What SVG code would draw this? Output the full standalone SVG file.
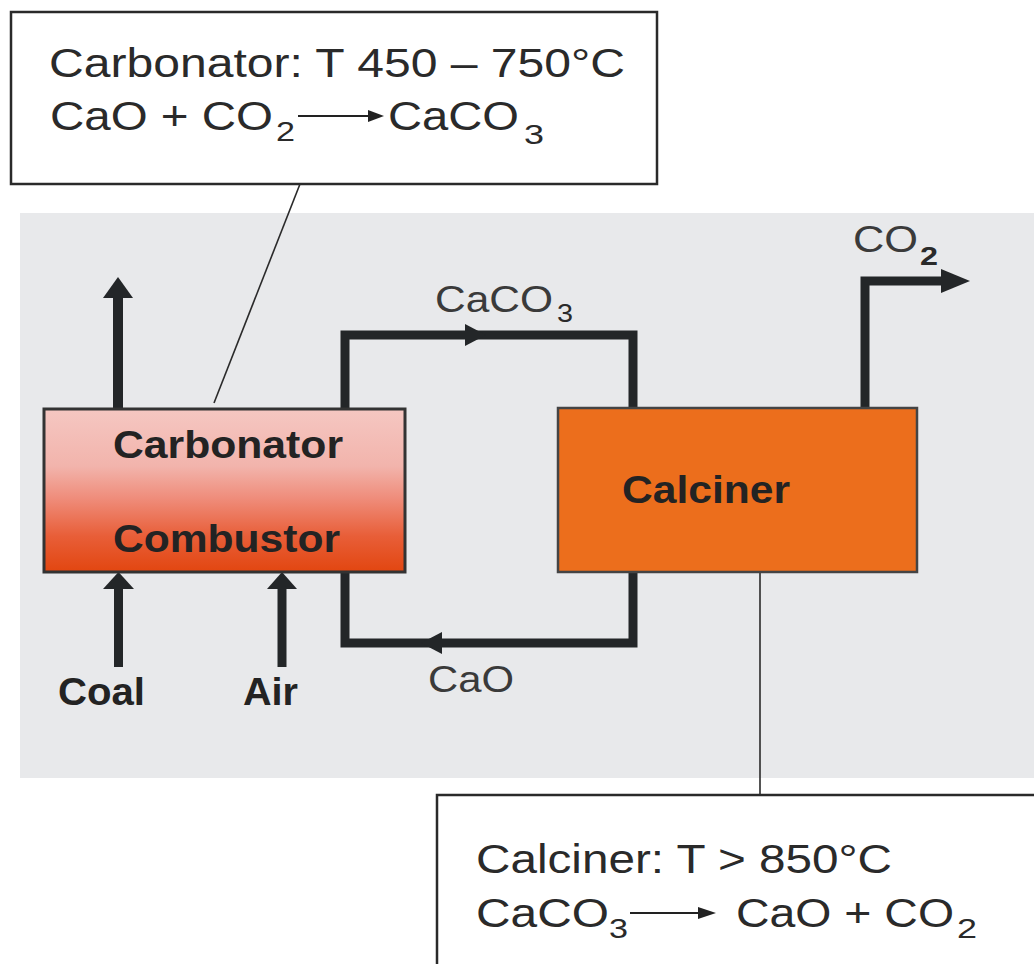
<svg xmlns="http://www.w3.org/2000/svg" width="1034" height="964" viewBox="0 0 1034 964">
<defs>
<linearGradient id="gCarb" x1="0" y1="0" x2="0" y2="1">
<stop offset="0" stop-color="#f5c7c2"/>
<stop offset="0.35" stop-color="#f2b4ac"/>
<stop offset="0.55" stop-color="#ef8c7a"/>
<stop offset="0.78" stop-color="#e85e38"/>
<stop offset="1" stop-color="#e24610"/>
</linearGradient>
<style>
.ln{fill:none;stroke:#232628;stroke-width:9;stroke-linejoin:miter}
.ah{fill:#232628}
.thin{fill:none;stroke:#2a2a2a;stroke-width:1.6}
.note{fill:#ffffff;stroke:#2a2a2a;stroke-width:2.5}
.nt{font-family:"Liberation Sans",Arial,sans-serif;font-size:40px;fill:#2a2a2a}
.sub{font-family:"Liberation Sans",Arial,sans-serif;font-size:28px;fill:#2a2a2a}
.lbl{font-family:"Liberation Sans",Arial,sans-serif;font-size:36px;fill:#3a3a3a}
.bl{font-family:"Liberation Sans",Arial,sans-serif;font-size:38px;font-weight:bold;fill:#232323}
</style>
</defs>
<rect id="background" x="20" y="213" width="1020" height="565" fill="#e8e9eb"/>

<g id="connectors">
<path class="thin" d="M300,184 L214,403"/>
<path class="thin" d="M760,572 V796"/>
<path class="ln" d="M118,408 V296" style="stroke-width:10"/>
<polygon class="ah" points="103,298 133,298 118,277"/>
<path class="ln" d="M118.5,667 V586"/>
<polygon class="ah" points="103,589 134,589 118.5,572"/>
<path class="ln" d="M282,667 V586"/>
<polygon class="ah" points="267,589 297,589 282,572"/>
<path class="ln" d="M345,408 V335 H633 V408"/>
<polygon class="ah" points="465,324 465,346 486,335"/>
<path class="ln" d="M633,572 V643 H345 V572"/>
<polygon class="ah" points="442,632 442,654 421,643"/>
<path class="ln" d="M865,408 V281 H945"/>
<polygon class="ah" points="941,269 941,293 970,281"/>
</g>

<g id="carbonator">
<rect x="44" y="409" width="361" height="163" fill="url(#gCarb)" stroke="#333" stroke-width="3"/>
<text class="bl" x="113" y="458" textLength="230" lengthAdjust="spacingAndGlyphs">Carbonator</text>
<text class="bl" x="113" y="552" textLength="227" lengthAdjust="spacingAndGlyphs">Combustor</text>
</g>

<g id="calciner">
<rect x="558" y="408" width="359" height="164" fill="#ec6e1c" stroke="#444" stroke-width="2.5"/>
<text class="bl" x="622" y="503" textLength="168" lengthAdjust="spacingAndGlyphs">Calciner</text>
</g>

<g id="labels">
<text class="bl" x="58" y="705" textLength="87" lengthAdjust="spacingAndGlyphs">Coal</text>
<text class="bl" x="243" y="705" textLength="55" lengthAdjust="spacingAndGlyphs">Air</text>
<text class="lbl" x="435" y="312" textLength="118" lengthAdjust="spacingAndGlyphs">CaCO</text>
<text class="sub" x="557" y="322" style="font-size:25px" textLength="16" lengthAdjust="spacingAndGlyphs">3</text>
<text class="lbl" x="428" y="692" textLength="86" lengthAdjust="spacingAndGlyphs">CaO</text>
<text class="lbl" x="853" y="252" textLength="65" lengthAdjust="spacingAndGlyphs">CO</text>
<text class="sub" x="920" y="265" style="font-size:26px;font-weight:bold" textLength="18" lengthAdjust="spacingAndGlyphs">2</text>
</g>

<g id="note-carbonator">
<rect class="note" x="11" y="12" width="646" height="172"/>
<text class="nt" x="49" y="77" textLength="576" lengthAdjust="spacingAndGlyphs">Carbonator: T 450 – 750°C</text>
<text class="nt" x="50" y="130" textLength="223" lengthAdjust="spacingAndGlyphs">CaO + CO</text>
<text class="sub" x="276" y="141" textLength="19" lengthAdjust="spacingAndGlyphs">2</text>
<line x1="298" y1="116" x2="370" y2="116" stroke="#222" stroke-width="2"/>
<polygon points="368,110 368,122 384,116" fill="#222"/>
<text class="nt" x="388" y="130" textLength="131" lengthAdjust="spacingAndGlyphs">CaCO</text>
<text class="sub" x="524" y="144" textLength="20" lengthAdjust="spacingAndGlyphs">3</text>
</g>

<g id="note-calciner">
<rect class="note" x="437" y="795" width="700" height="300"/>
<text class="nt" x="476" y="873" textLength="416" lengthAdjust="spacingAndGlyphs">Calciner: T &gt; 850°C</text>
<text class="nt" x="476" y="927" textLength="133" lengthAdjust="spacingAndGlyphs">CaCO</text>
<text class="sub" x="609" y="938" textLength="19" lengthAdjust="spacingAndGlyphs">3</text>
<line x1="630" y1="913" x2="700" y2="913" stroke="#222" stroke-width="2"/>
<polygon points="698,907 698,919 716,913" fill="#222"/>
<text class="nt" x="736" y="927" textLength="218" lengthAdjust="spacingAndGlyphs">CaO + CO</text>
<text class="sub" x="957" y="938" textLength="20" lengthAdjust="spacingAndGlyphs">2</text>
</g>
</svg>
